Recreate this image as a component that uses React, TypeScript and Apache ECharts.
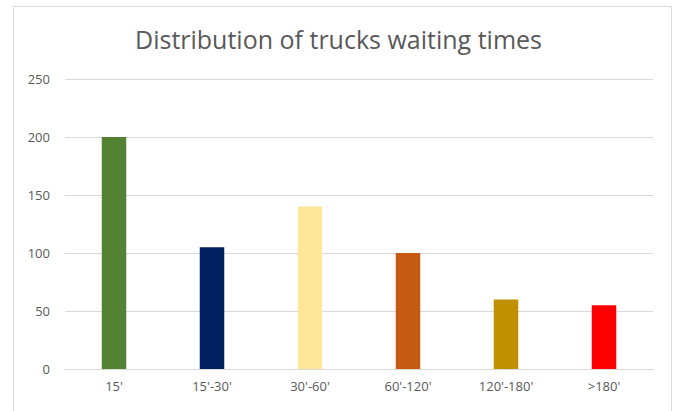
import React, { useEffect, useRef } from "react";
import * as echarts from "echarts";

const categories = ["15'", "15'-30'", "30'-60'", "60'-120'", "120'-180'", ">180'"];
const values = [200, 105, 140, 100, 60, 55];
const barColors = ["#548235", "#002060", "#FFE699", "#C55A11", "#BF9000", "#FF0000"];
const yTicks = { min: 0, max: 250, interval: 50 };
const titleText = "Distribution of trucks waiting times";

export default function App() {
  const ref = useRef<HTMLDivElement>(null);
  useEffect(() => {
    document.body.style.margin = "0";
    const chart = echarts.init(ref.current!, null, { renderer: "svg" });
    chart.setOption({
      animation: false,
      backgroundColor: "#ffffff",
      title: {
        text: titleText,
        left: "center",
        top: 21,
        textStyle: {
          fontFamily: "Open Sans",
          fontSize: 25,
          fontWeight: "normal",
          color: "#595959",
        },
      },
      graphic: [
        {
          type: "rect",
          shape: { x: 13.5, y: 6.5, width: 658, height: 430 },
          style: { fill: "none", stroke: "#d9d9d9", lineWidth: 1 },
          silent: true,
        },
      ],
      grid: { left: 65, right: 24, top: 79, bottom: 42 },
      xAxis: {
        type: "category",
        data: categories,
        axisLine: { lineStyle: { color: "#d9d9d9", width: 1 } },
        axisTick: { show: false },
        axisLabel: { color: "#595959", fontSize: 13, margin: 10, fontFamily: "Open Sans" },
      },
      yAxis: {
        type: "value",
        min: yTicks.min,
        max: yTicks.max,
        interval: yTicks.interval,
        axisLine: { show: false },
        axisTick: { show: false },
        axisLabel: { color: "#595959", fontSize: 13, margin: 15, fontFamily: "Open Sans" },
        splitLine: { lineStyle: { color: "#d9d9d9", width: 1 } },
      },
      series: [
        {
          type: "bar",
          data: values.map((v, i) => ({ value: v, itemStyle: { color: barColors[i] } })),
          barWidth: "25%",
        },
      ],
    });
    return () => chart.dispose();
  }, []);
  return <div ref={ref} style={{ width: 677, height: 411 }} />;
}
